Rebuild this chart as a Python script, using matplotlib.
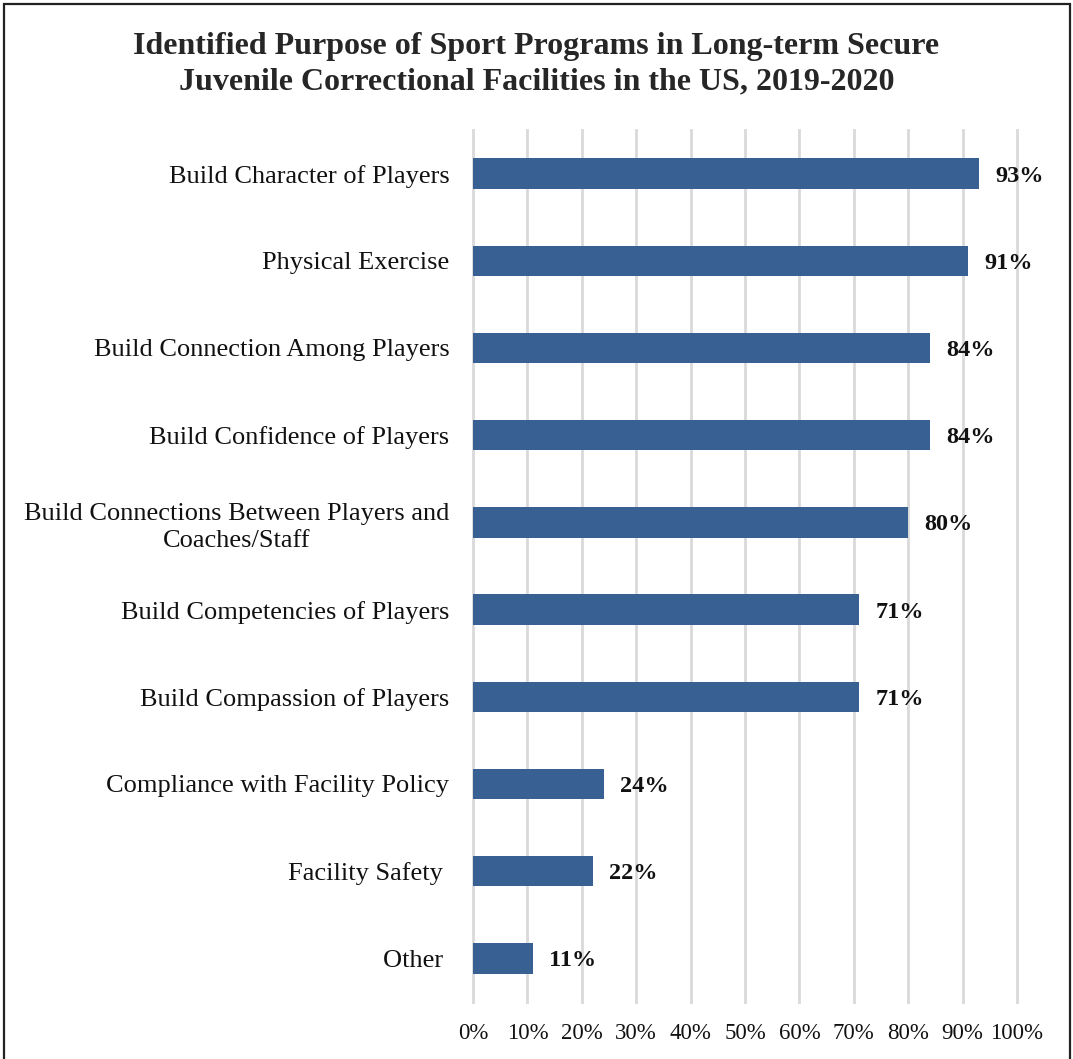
import matplotlib.pyplot as plt
from matplotlib.patches import Rectangle

# survey results: share of facilities naming each purpose
purposes = [
    'Build Character of Players',
    'Physical Exercise',
    'Build Connection Among Players',
    'Build Confidence of Players',
    'Build Connections Between Players and\nCoaches/Staff',
    'Build Competencies of Players',
    'Build Compassion of Players',
    'Compliance with Facility Policy',
    'Facility Safety ',
    'Other ',
]
percent = [93, 91, 84, 84, 80, 71, 71, 24, 22, 11]
x_ticks = [0, 10, 20, 30, 40, 50, 60, 70, 80, 90, 100]

plt.rcParams['font.family'] = ['Liberation Serif', 'DejaVu Serif']

W, H = 1073, 1059
fig = plt.figure(figsize=(W / 100, H / 100), dpi=100)
ax = fig.add_axes([473 / W, 1 - 1002 / H, 544 / W, 872 / H])

positions = list(range(len(purposes)))
bars = ax.barh(positions, percent, height=0.35, color='#386092', zorder=3)

ax.set_xlim(0, 100)
ax.set_ylim(len(purposes) - 0.5, -0.5)
ax.set_xticks(x_ticks)
ax.set_xticklabels([f'{t}%' for t in x_ticks], fontsize=16.5, color='#111111')
ax.set_yticks(positions)
ax.set_yticklabels(purposes, fontsize=19, color='#111111')
for lab in ax.get_yticklabels():
    lab.set_multialignment('center')
    lab.set_linespacing(1.3)
ax.tick_params(axis='both', length=0)
ax.tick_params(axis='y', pad=17)
ax.tick_params(axis='x', pad=15)

ax.grid(axis='x', color='#d9d9d9', linewidth=2, zorder=0)
for line in ax.get_xgridlines():
    line.set_clip_on(False)
for side in ax.spines.values():
    side.set_visible(False)

# value labels to the right of each bar
for bar, val in zip(bars, percent):
    ax.annotate(f'{val}%', (val, bar.get_y() + bar.get_height() / 2),
                xytext=(11.5, 0), textcoords='offset points',
                ha='left', va='center_baseline', fontsize=17.5,
                fontweight='bold', color='#111111')

fig.text(0.5, 1 - 64 / H,
         'Identified Purpose of Sport Programs in Long-term Secure\n'
         'Juvenile Correctional Facilities in the US, 2019-2020',
         ha='center', va='center', fontsize=23, fontweight='bold',
         color='#262626', linespacing=1.27)

# frame around the figure
fig.patches.append(Rectangle((4 / W, -0.05), 1066 / W, 1.05 - 4 / H,
                             transform=fig.transFigure, fill=False,
                             edgecolor='#222222', linewidth=1.6, clip_on=False))

fig.savefig('out.png', dpi=100, facecolor='white')
